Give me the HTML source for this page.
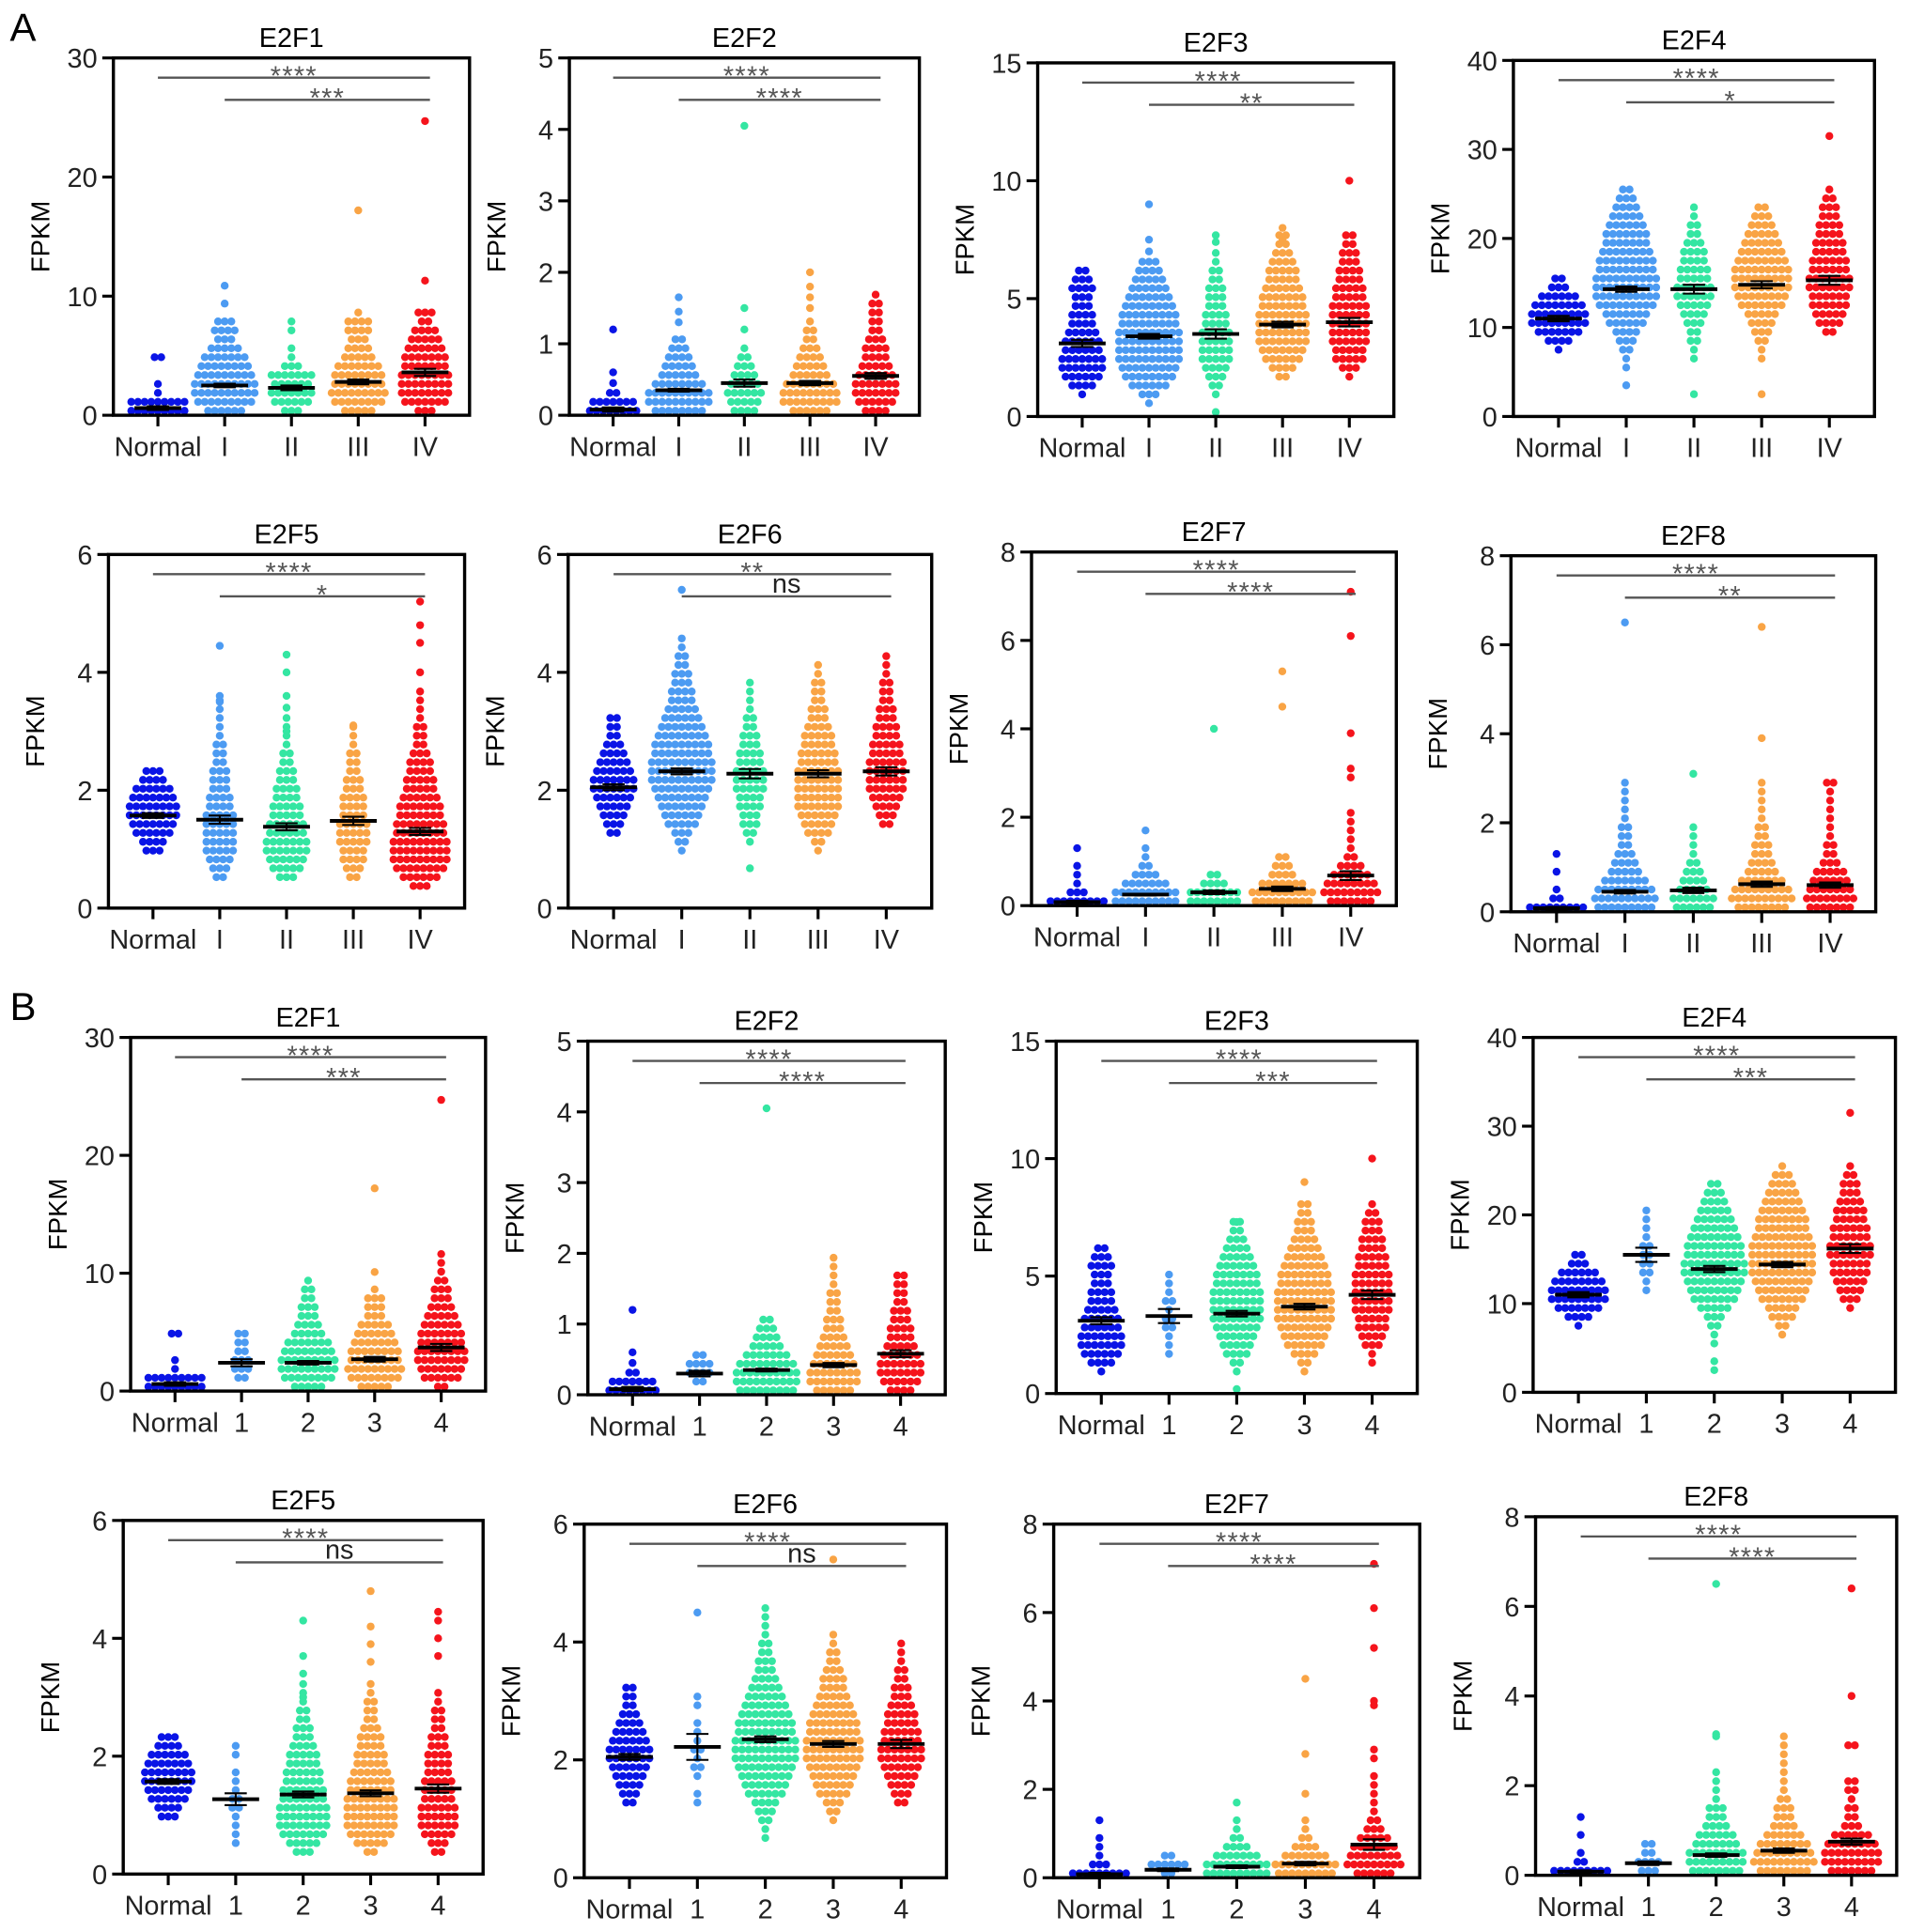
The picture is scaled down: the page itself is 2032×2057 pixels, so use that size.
<!DOCTYPE html>
<html><head><meta charset="utf-8">
<style>
html,body{margin:0;padding:0;background:#fff;}
svg{display:block;font-family:"Liberation Sans",Arial,sans-serif;}
</style></head>
<body>
<svg id="fig" width="2032" height="2057" viewBox="0 0 1549 1568" xmlns="http://www.w3.org/2000/svg">
<text x="8" y="33" font-size="32">A</text>
<text x="8" y="828" font-size="32">B</text>
</svg>
<script>
// ---- categories ----
const catsA = ["Normal","I","II","III","IV"];
const catsB = ["Normal","1","2","3","4"];
const colors = ["#0a14e6","#4c9bf2","#34e6a2","#f9a445","#f5141c"];

// ---- data: counts per bin (bin = ymax/40, from 0), outlier values, means, sem ----
const nA = [9,9,1,1,0,0,2];
const nA_F3 = [0,0,1,4,6,7,7,6,6,5,4,4,3,3,4,3,2];
const nA_F4 = [0,0,0,0,0,0,0,1,4,7,9,9,8,6,3,2];
const nA_F5 = [0,0,0,0,0,0,3,4,6,7,8,8,7,6,4,3];
const nA_F6 = [0,0,0,0,0,0,0,0,2,3,4,5,6,7,7,6,5,4,3,2,2,2];
const nA_F7 = [9,3,1,1,1,0,1];
const nA_F8 = [9,2,1,0,1,0,1];

const a1_counts = [nA,[6,9,10,10,9,8,7,5,3,4,3,0,1,0,1],[3,6,7,6,7,3,1,1,0,1,1],[5,8,9,8,8,7,5,4,3,4,4,1],[3,7,8,8,8,7,7,6,5,4,2,3]];
const a1_out = [[],[],[],[17.2],[11.3,24.7]];
const a1_mean = [0.6,2.5,2.3,2.8,3.6];
const a1_sem = [0.15,0.15,0.2,0.2,0.3];

const a2_counts = [[8,7,2],[8,10,10,8,6,5,4,3,2],[4,5,6,5,4,3,2,1],[6,9,9,8,6,5,4,3,2,2,1],[4,6,7,7,6,5,4,4,3,2,2,2,2,1]];
const a2_out = [[0.45,0.6,1.2],[1.3,1.45,1.65],[1.2,1.5,4.05],[1.5,1.65,1.8,2.0],[]];
const a2_mean = [0.08,0.35,0.45,0.45,0.55];
const a2_sem = [0.03,0.02,0.05,0.03,0.04];

const a3_counts = [nA_F3,[0,1,3,6,8,9,10,10,10,10,9,9,8,7,6,5,4,3],[1,0,1,2,3,4,5,5,5,5,4,4,3,3,3,2,2,1,1,0,1],[0,0,0,0,2,4,6,7,8,8,8,8,7,7,6,5,5,4,3,2,2],[0,0,0,0,1,3,5,5,6,6,6,6,6,5,5,4,4,3,3,2,2]];
const a3_out = [[],[7.0,7.5,9.0],[7.4],[7.5,8.0],[10]];
const a3_mean = [3.1,3.4,3.5,3.9,4.0];
const a3_sem = [0.15,0.1,0.2,0.12,0.18];

const a4_counts = [nA_F4,[0,0,0,1,0,1,1,2,3,4,6,7,9,10,10,10,9,9,8,7,7,6,5,4,3,2],[0,0,1,0,0,0,1,1,2,2,3,4,5,6,6,5,5,4,4,3,2,2,1,1],[0,0,1,0,0,0,1,1,2,3,4,5,7,8,9,9,9,8,7,6,5,4,3,2],[0,0,0,0,0,0,0,0,0,2,4,5,6,6,7,7,6,6,5,5,4,4,3,3,2,1]];
const a4_out = [[],[],[],[],[31.5]];
const a4_mean = [11,14.3,14.3,14.8,15.3];
const a4_sem = [0.3,0.3,0.5,0.4,0.5];

const a5_counts = [nA_F5,[0,0,0,2,3,4,5,5,5,5,5,4,4,3,3,3,2,2,2,1,1,1,1,1],[0,0,0,3,5,6,7,7,6,6,5,5,4,4,3,3,2,2,1,1,1,1],[0,0,0,2,3,4,4,5,5,5,4,4,4,3,3,2,2,2,1,1,1],[0,0,3,6,8,9,9,9,8,8,7,7,6,5,5,4,4,3,2,2,2,1,1,1,1]];
const a5_out = [[],[3.5,3.6,4.45],[3.0,3.4,3.6,4.0,4.3],[3.1],[4.0,4.5,4.8,5.2]];
const a5_mean = [1.57,1.5,1.38,1.48,1.3];
const a5_sem = [0.04,0.07,0.06,0.07,0.06];

const a6_counts = [nA_F6,[0,0,0,0,0,0,1,2,3,5,6,7,8,9,10,10,10,9,9,8,7,6,5,4,4,3,3,2,2,1,1],[0,0,0,0,1,0,0,1,2,3,3,4,4,5,5,5,4,4,3,3,2,2,1,1,1,1],[0,0,0,0,0,0,1,2,4,5,6,7,7,7,7,7,6,6,5,5,4,3,3,2,2,2,1,1],[0,0,0,0,0,0,0,0,0,2,3,4,5,6,6,6,6,5,5,4,4,3,3,2,2,2,1,1,1]];
const a6_out = [[],[5.4],[],[],[]];
const a6_mean = [2.05,2.32,2.28,2.28,2.32];
const a6_sem = [0.05,0.05,0.08,0.06,0.07];

const a7_counts = [nA_F7,[10,10,7,4,2,1,1,0,1],[8,8,4,2],[9,10,7,4,3,2],[7,9,8,6,4,2,1,1,1,1,1,0,0,0,1,1]];
const a7_out = [[],[],[4.0],[4.5,5.3],[3.9,6.1,7.1]];
const a7_mean = [0.08,0.25,0.3,0.38,0.68];
const a7_sem = [0.03,0.02,0.04,0.05,0.1];

const a8_counts = [nA_F8,[9,10,9,7,5,4,3,2,2,2,1,1,1,1,1],[6,7,5,4,3,2,1,1,1,1],[8,10,9,7,5,4,3,3,2,2,1,1,1,1,1,0,0,0,0,1],[7,8,7,6,5,3,2,2,1,1,1,1,1,1,2]];
const a8_out = [[],[6.5],[3.1],[6.4],[]];
const a8_mean = [0.08,0.45,0.48,0.62,0.6];
const a8_sem = [0.03,0.04,0.06,0.06,0.06];

const b1_counts = [nA,[0,2,3,3,2,2,2],[5,8,9,9,8,7,5,4,3,3,2,2,1],[5,8,9,8,8,7,6,5,3,3,3,1],[2,6,7,8,8,7,7,6,5,4,3,3,2,1,1,1]];
const b1_out = [[],[],[],[10.1,17.2],[24.7]];
const b1_mean = [0.6,2.4,2.4,2.7,3.7];
const b1_sem = [0.15,0.3,0.15,0.2,0.3];

const b2_counts = [[8,7,2],[0,2,4,4,2],[9,10,10,9,7,5,4,3,2],[6,8,8,7,6,5,4,3,3,2,2,2,1,1,1,1],[4,6,7,7,6,5,4,4,3,3,2,2,2,2]];
const b2_out = [[0.45,0.6,1.2],[],[4.05],[],[]];
const b2_mean = [0.08,0.3,0.35,0.42,0.58];
const b2_sem = [0.03,0.04,0.02,0.03,0.05];

const b3_counts = [nA_F3,[0,0,0,0,1,1,1,2,2,1,2,1,1,1],[1,0,1,2,4,5,6,7,8,8,8,8,7,7,6,5,4,3,2,2],[0,0,1,2,4,6,7,8,9,9,9,9,8,8,7,6,5,4,3,3,2,2],[0,0,0,1,1,3,4,5,5,6,6,6,6,6,5,5,4,4,3,3,2,1]];
const b3_out = [[],[],[7.3],[9.0],[10]];
const b3_mean = [3.1,3.3,3.4,3.7,4.2];
const b3_sem = [0.15,0.3,0.12,0.12,0.18];

const b4_counts = [nA_F4,[0,0,0,0,0,0,0,0,0,0,0,1,1,2,2,2,2,1,1,1,1],[0,0,1,1,0,1,1,2,3,5,7,8,9,10,10,9,9,8,7,6,5,4,3,2],[0,0,0,0,0,0,1,2,4,5,7,8,9,10,10,10,10,9,8,8,7,6,5,4,3,1],[0,0,0,0,0,0,0,0,0,1,3,4,5,6,6,7,7,6,6,5,5,4,3,3,2,1]];
const b4_out = [[],[],[],[],[31.5]];
const b4_mean = [11,15.5,13.9,14.4,16.2];
const b4_sem = [0.3,0.8,0.35,0.3,0.5];

const b5_counts = [nA_F5,[0,0,0,1,1,1,1,2,2,1,1,1,0,1,1],[0,0,3,5,7,8,8,8,7,7,6,6,5,5,4,3,3,2,2,1,1,1],[0,0,2,5,7,8,8,8,8,7,7,6,5,5,4,4,3,2,2,2,1,1],[0,0,2,3,5,6,6,6,5,5,5,4,4,4,3,3,2,2,2,1,1]];
const b5_out = [[],[],[3.0,3.4,3.7,4.3],[3.6,3.9,4.2,4.8],[3.7,4.0,4.3,4.45]];
const b5_mean = [1.57,1.27,1.35,1.37,1.45];
const b5_sem = [0.04,0.1,0.05,0.05,0.07];

const b6_counts = [nA_F6,[0,0,0,0,0,0,0,0,1,1,0,1,2,1,2,1,1,1,0,1,1],[0,0,0,0,1,1,2,3,4,6,7,8,9,10,10,10,9,9,8,7,6,5,4,3,3,2,2,1,1,1,1],[0,0,0,0,0,0,1,2,3,5,6,7,8,9,9,9,8,8,7,6,5,4,4,3,2,2,1,1],[0,0,0,0,0,0,0,0,2,3,4,5,6,7,7,6,6,5,5,4,3,3,2,2,1,1,1]];
const b6_out = [[],[4.5],[],[5.4],[]];
const b6_mean = [2.05,2.22,2.35,2.27,2.27];
const b6_sem = [0.05,0.22,0.05,0.05,0.07];

const b7_counts = [nA_F7,[2,6,2],[10,10,7,4,2,1,1,0,1],[9,10,7,4,2,1,1,0,0,1],[6,9,8,7,5,3,2,1,1,1,1,1,0,1,1]];
const b7_out = [[],[],[],[2.8,4.5],[3.9,4.0,5.2,6.1,7.1]];
const b7_mean = [0.08,0.18,0.25,0.32,0.75];
const b7_sem = [0.03,0.03,0.03,0.04,0.12];

const b8_counts = [nA_F8,[3,4,2,2],[8,9,9,7,6,4,3,3,1,1,1,1],[8,10,9,8,6,4,3,3,2,1,1,1,1,1,1,1],[7,9,9,8,6,3,2,2,1,2,2,0,0,0,2]];
const b8_out = [[],[],[3.1,3.15,6.5],[],[4.0,6.4]];
const b8_mean = [0.08,0.27,0.45,0.55,0.75];
const b8_sem = [0.03,0.04,0.04,0.05,0.07];

// ---- panel layout (display coords) ----
const panels = [
 {id:"a-e2f1",t:"E2F1",box:[92,47,381,337],max:30,step:10,cats:catsA,c:a1_counts,o:a1_out,m:a1_mean,s:a1_sem,sig:["****","***"]},
 {id:"a-e2f2",t:"E2F2",box:[462,47,746,337],max:5,step:1,cats:catsA,c:a2_counts,o:a2_out,m:a2_mean,s:a2_sem,sig:["****","****"]},
 {id:"a-e2f3",t:"E2F3",box:[842,51,1131,338],max:15,step:5,cats:catsA,c:a3_counts,o:a3_out,m:a3_mean,s:a3_sem,sig:["****","**"]},
 {id:"a-e2f4",t:"E2F4",box:[1228,49,1521,338],max:40,step:10,cats:catsA,c:a4_counts,o:a4_out,m:a4_mean,s:a4_sem,sig:["****","*"]},
 {id:"a-e2f5",t:"E2F5",box:[88,450,377,737],max:6,step:2,cats:catsA,c:a5_counts,o:a5_out,m:a5_mean,s:a5_sem,sig:["****","*"]},
 {id:"a-e2f6",t:"E2F6",box:[461,450,756,737],max:6,step:2,cats:catsA,c:a6_counts,o:a6_out,m:a6_mean,s:a6_sem,sig:["**","ns"]},
 {id:"a-e2f7",t:"E2F7",box:[837,448,1133,735],max:8,step:2,cats:catsA,c:a7_counts,o:a7_out,m:a7_mean,s:a7_sem,sig:["****","****"]},
 {id:"a-e2f8",t:"E2F8",box:[1226,451,1522,740],max:8,step:2,cats:catsA,c:a8_counts,o:a8_out,m:a8_mean,s:a8_sem,sig:["****","**"]},
 {id:"b-e2f1",t:"E2F1",box:[106,842,394,1129],max:30,step:10,cats:catsB,c:b1_counts,o:b1_out,m:b1_mean,s:b1_sem,sig:["****","***"]},
 {id:"b-e2f2",t:"E2F2",box:[477,845,767,1132],max:5,step:1,cats:catsB,c:b2_counts,o:b2_out,m:b2_mean,s:b2_sem,sig:["****","****"]},
 {id:"b-e2f3",t:"E2F3",box:[857,845,1150,1131],max:15,step:5,cats:catsB,c:b3_counts,o:b3_out,m:b3_mean,s:b3_sem,sig:["****","***"]},
 {id:"b-e2f4",t:"E2F4",box:[1244,842,1538,1130],max:40,step:10,cats:catsB,c:b4_counts,o:b4_out,m:b4_mean,s:b4_sem,sig:["****","***"]},
 {id:"b-e2f5",t:"E2F5",box:[100,1234,392,1521],max:6,step:2,cats:catsB,c:b5_counts,o:b5_out,m:b5_mean,s:b5_sem,sig:["****","ns"]},
 {id:"b-e2f6",t:"E2F6",box:[474,1237,768,1524],max:6,step:2,cats:catsB,c:b6_counts,o:b6_out,m:b6_mean,s:b6_sem,sig:["****","ns"]},
 {id:"b-e2f7",t:"E2F7",box:[855,1237,1152,1524],max:8,step:2,cats:catsB,c:b7_counts,o:b7_out,m:b7_mean,s:b7_sem,sig:["****","****"]},
 {id:"b-e2f8",t:"E2F8",box:[1246,1231,1539,1522],max:8,step:2,cats:catsB,c:b8_counts,o:b8_out,m:b8_mean,s:b8_sem,sig:["****","****"]}
];

const NS="http://www.w3.org/2000/svg";
const svg=document.getElementById("fig");
function mk(tag,attrs,parent,txt){
  const e=document.createElementNS(NS,tag);
  for(const k in attrs) e.setAttribute(k,attrs[k]);
  if(txt!==undefined) e.textContent=txt;
  parent.appendChild(e);
  return e;
}

panels.forEach(p=>{
  const [L,T,R,B]=p.box, W=R-L, H=B-T;
  const g=mk("g",{},svg);
  
  
  const y=v=>B-(v/p.max)*H;
  const x=i=>L+W*(0.125+0.1875*i);
  const binW=p.max/40;
  const tt=mk("text",{x:(L+R)/2,y:T-9,"font-size":22,"text-anchor":"middle"},g,p.t);
  
  
  const yl=mk("text",{x:0,y:0,"font-size":21,"text-anchor":"middle",transform:`translate(${L-52},${(T+B)/2}) rotate(-90)`},g,"FPKM");
  
  
  for(let v=0; v<=p.max+1e-9; v+=p.step){
    const yy=y(v);
    const tk=mk("line",{x1:L-9,x2:L,y1:yy,y2:yy,stroke:"#000","stroke-width":2.4},g);
    
    
    const tl=mk("text",{x:L-13,y:yy+8,"font-size":22,"text-anchor":"end",fill:"#222"},g,String(v));
    
    
  }
  p.c.forEach((counts,ci)=>{
    const cx=x(ci);
    const grp=mk("g",{fill:colors[ci]},g);
    
    
    counts.forEach((n,bi)=>{
      const yy=y((bi+0.5)*binW);
      for(let j=0;j<n;j++){
        const d=mk("circle",{cx:cx+(j-(n-1)/2)*5.4,cy:yy,r:3.2},grp);
        
        
      }
    });
    p.o[ci].forEach(v=>{
      const d=mk("circle",{cx:cx,cy:y(v),r:3.2},grp);
      
      
    });
  });
  p.m.forEach((mv,ci)=>{
    const cx=x(ci), ym=y(mv), yh=y(mv+p.s[ci]), ylo=y(mv-p.s[ci]);
    const mg=mk("g",{stroke:"#000"},g);
    
    
    mk("line",{x1:cx-19,x2:cx+19,y1:ym,y2:ym,"stroke-width":3},mg);
    mk("line",{x1:cx,x2:cx,y1:yh,y2:ylo,"stroke-width":1.6},mg);
    mk("line",{x1:cx-9,x2:cx+9,y1:yh,y2:yh,"stroke-width":1.6},mg);
    mk("line",{x1:cx-9,x2:cx+9,y1:ylo,y2:ylo,"stroke-width":1.6},mg);
  });
  const bx=mk("rect",{x:L,y:T,width:W,height:H,fill:"none",stroke:"#000","stroke-width":2.6},g);
  
  
  p.cats.forEach((c,ci)=>{
    const cx=x(ci);
    const tk=mk("line",{x1:cx,x2:cx,y1:B,y2:B+9,stroke:"#000","stroke-width":2.4},g);
    
    
    const tl=mk("text",{x:cx,y:B+33,"font-size":22,"text-anchor":"middle",fill:"#222"},g,c);
    
    
  });
  [[0,16],[1,34]].forEach(([start,dy],k)=>{
    const x1=x(start), x2=x(4)+4, ly=T+dy;
    const sl=mk("line",{x1:x1,x2:x2,y1:ly,y2:ly,stroke:"#555","stroke-width":1.8},g);
    
    
    const lab=p.sig[k];
    const isNs=lab==="ns";
    const st=mk("text",{x:(x1+x2)/2,y:isNs?ly-3:ly+6,"font-size":22,"text-anchor":"middle",fill:isNs?"#222":"#555","letter-spacing":isNs?0:1},g,lab);
    
    
  });
});
</script>
</body></html>
